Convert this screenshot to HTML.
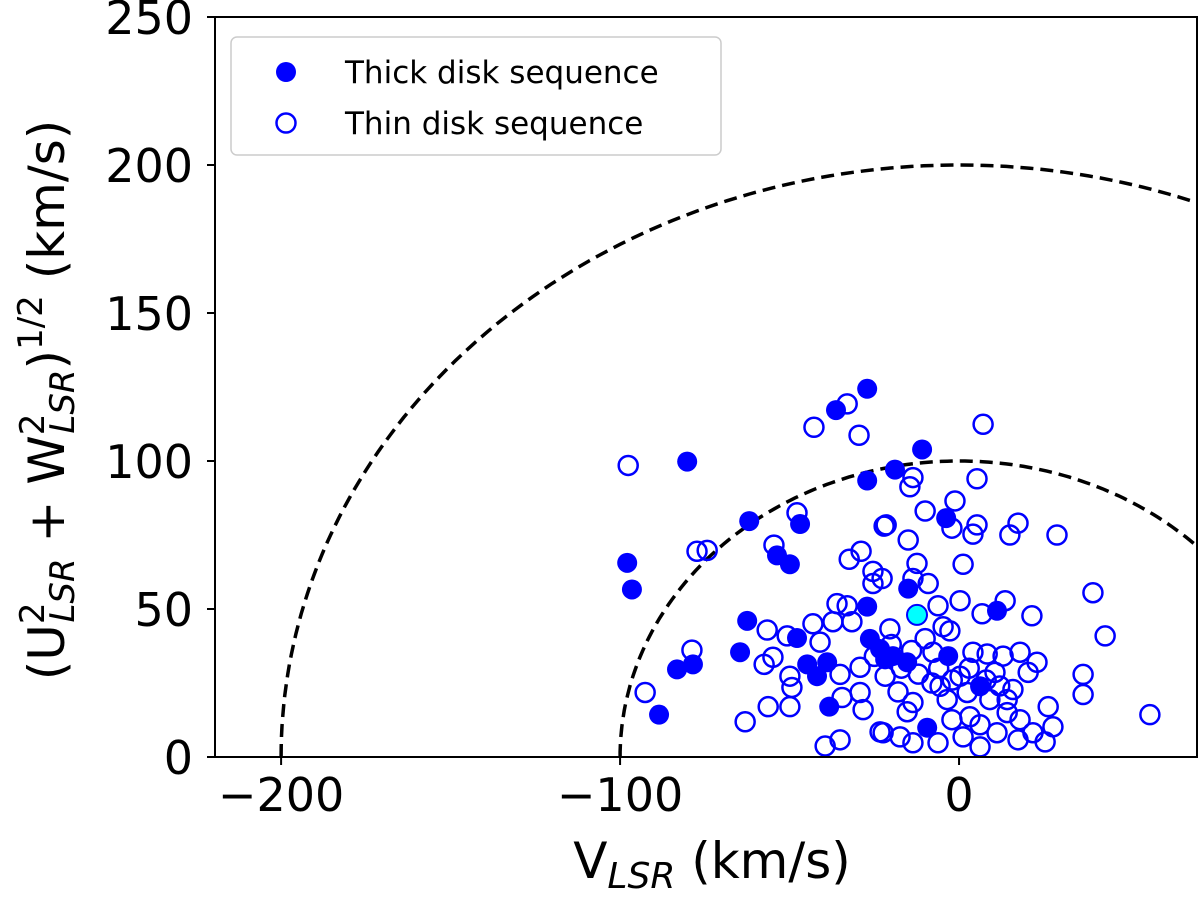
<!DOCTYPE html>
<html><head><meta charset="utf-8"><style>
body{margin:0;background:#fff;}
svg{display:block;font-family:"DejaVu Sans","Liberation Sans",sans-serif;}
</style></head><body>
<svg id="chart" width="1200" height="897" viewBox="0 0 1200 897">
<g id="plot"></g>
<g id="axes"></g>
<g>
<rect x="231" y="37" width="490" height="118" rx="6" fill="#fff" fill-opacity="0.9" stroke="#ccc" stroke-width="1.5"/>
<circle cx="286" cy="72" r="10" fill="#0000ff"/>
<text x="345" y="83" font-size="31">Thick disk sequence</text>
<circle cx="286" cy="123" r="9.5" fill="none" stroke="#0000ff" stroke-width="2.5"/>
<text x="345" y="134" font-size="31">Thin disk sequence</text>
</g>
<text x="712" y="878" font-size="50" text-anchor="middle">V<tspan font-style="italic" font-size="36" dy="10">LSR</tspan><tspan dy="-10"> (km/s)</tspan></text>
<text transform="translate(64,400) rotate(-90)" font-size="50" text-anchor="middle">(U<tspan font-size="34" dy="-20">2</tspan><tspan font-size="34" font-style="italic" dx="-20" dy="30">LSR</tspan><tspan dy="-10"> + W</tspan><tspan font-size="34" dy="-20">2</tspan><tspan font-size="34" font-style="italic" dx="-20" dy="30">LSR</tspan><tspan dy="-10">)</tspan><tspan font-size="34" dy="-22">1/2</tspan><tspan dy="22"> (km/s)</tspan></text>
</svg>
<script>
const xTicks=[-200,-100,0];
const yTicks=[0,50,100,150,200,250];
const radii=[100,200];
const thickX=[-27.1,-36.3,-80.2,-27.1,-18.9,-61.9,-46.9,-97.9,-96.5,-53.7,-49.9,-62.5,-64.6,-83.2,-78.5,-88.5,-27.1,-47.8,-44.8,-41.9,-38.9,-38.3,-23.3,-10.9,-3.8,-15.0,11.2,-19.5,-15.3,-3.2,6.2,-9.4,-26.3,-21.8];
const thickY=[124.4,117.2,99.8,93.4,97.1,79.7,78.7,65.6,56.6,68.1,65.1,46.0,35.4,29.6,31.3,14.3,50.8,40.2,31.3,27.3,32.0,17.0,36.5,103.9,80.7,56.9,49.4,34.1,32.0,34.1,23.9,9.9,39.9,33.0];
const thinX=[-97.6,-42.8,-33.0,-29.5,-47.8,-54.6,-77.3,-74.3,-22.1,-32.4,-28.9,-25.4,-25.4,-36.0,-33.0,-56.6,-50.7,-43.1,-37.2,-31.6,-41.0,-78.8,-57.5,-54.9,-49.9,-49.3,-35.1,-29.2,-56.3,-49.9,-92.6,-63.1,-34.5,-28.3,-35.1,-39.5,-23.3,-29.2,7.1,5.3,-13.6,-14.5,-10.0,-1.2,-2.1,5.3,4.1,17.4,15.0,28.9,-21.5,-15.0,-12.4,1.2,-13.6,-9.1,0.3,-6.2,6.8,13.6,21.5,39.5,43.1,-4.7,-2.7,-20.4,-7.7,4.1,8.3,13.0,18.0,23.0,20.4,10.6,0.3,-5.6,-3.5,15.9,14.2,2.4,9.1,36.6,36.6,26.3,56.3,-13.6,-15.3,-2.1,3.2,6.2,14.2,18.0,27.7,21.8,25.4,-22.4,-17.4,-13.6,-6.2,1.2,6.2,17.4,11.2,-21.8,-22.7,-20,-17,-12,-8,-10,-25,-18,-6,-2,3,8,12,-14];
const thinY=[98.5,111.4,119.3,108.7,82.5,71.6,69.5,69.8,78.0,66.8,69.5,62.7,58.6,51.8,51.1,42.9,40.9,45.0,45.7,45.7,38.8,36.1,31.3,33.7,27.3,23.5,27.9,30.3,17.0,17.0,21.8,11.9,20.1,16.0,5.8,3.7,8.5,21.8,112.4,94.0,94.4,91.3,83.1,86.5,77.3,78.4,75.3,79.0,75.0,75.0,78.4,73.3,65.4,65.1,60.3,58.6,52.8,51.1,48.4,52.8,47.7,55.5,40.9,44.0,42.6,43.3,35.4,35.4,34.8,34.1,35.4,32.0,28.6,28.6,27.3,23.9,19.4,22.8,19.4,21.8,19.4,27.9,21.1,17.0,14.3,18.4,15.3,12.6,13.6,10.9,15.0,12.6,10.2,8.2,5.1,8.2,6.8,4.8,4.8,6.8,3.4,5.8,8.2,27.3,60.3,38,30,28,25,40,34,22,30,26,30,26,24,36];
const specialX=[-12.4];
const specialY=[48.0];

const L=215,R=1197,T=17,B=757,xmin=-219.5,xmax=70.2,ymin=0,ymax=250;
const sx=v=>L+(v-xmin)/(xmax-xmin)*(R-L);
const sy=v=>B-(v-ymin)/(ymax-ymin)*(B-T);
const NS='http://www.w3.org/2000/svg';
const plot=document.getElementById('plot'),axes=document.getElementById('axes');
function mk(tag,attrs,parent){const e=document.createElementNS(NS,tag);for(const k in attrs)e.setAttribute(k,attrs[k]);parent.appendChild(e);return e;}
const defs=mk('defs',{},plot);
const cp=mk('clipPath',{id:'clip'},defs);
mk('rect',{x:L,y:T,width:R-L,height:B-T},cp);
const g=mk('g',{'clip-path':'url(#clip)'},plot);
radii.forEach((r,i)=>{
  let d='';
  for(let k=0;k<=180;k++){const a=Math.PI*k/180;const px=sx(-r*Math.cos(a)),py=sy(r*Math.sin(a));d+=(k?'L':'M')+px.toFixed(1)+' '+py.toFixed(1);}
  const p=mk('path',{d:d,fill:'none',stroke:'#000','stroke-width':3.5,'stroke-dasharray':'13 7'},g);
  
  
});
thickX.forEach((x,i)=>{
  const c=mk('circle',{cx:sx(x),cy:sy(thickY[i]),r:10,fill:'#0000ff'},g);
  
  
});
thinX.forEach((x,i)=>{
  const c=mk('circle',{cx:sx(x),cy:sy(thinY[i]),r:9.5,fill:'none',stroke:'#0000ff','stroke-width':2.5},g);
  
  
});
specialX.forEach((x,i)=>{
  const c=mk('circle',{cx:sx(x),cy:sy(specialY[i]),r:10,fill:'#00ffff',stroke:'#0000ff','stroke-width':2},g);
  
  
});
const fr=mk('rect',{x:L,y:T,width:R-L,height:B-T,fill:'none',stroke:'#000','stroke-width':2},axes);


xTicks.forEach(v=>{
  const x=sx(v);
  mk('line',{x1:x,x2:x,y1:B,y2:B+8,stroke:'#000','stroke-width':2},axes);
  const t=mk('text',{x:x,y:B+54,'font-size':46,'text-anchor':'middle'},axes);
  t.textContent=v<0?'\u2212'+(-v):String(v);
  
  
});
yTicks.forEach(v=>{
  const y=sy(v);
  mk('line',{x1:L-8,x2:L,y1:y,y2:y,stroke:'#000','stroke-width':2},axes);
  const t=mk('text',{x:L-22,y:y+17,'font-size':46,'text-anchor':'end'},axes);
  t.textContent=String(v);
  
  
});
</script>
</body></html>
